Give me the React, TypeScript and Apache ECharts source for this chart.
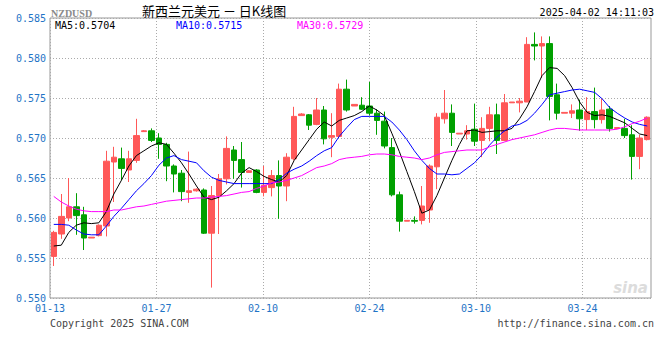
import React, { useEffect, useRef } from "react";
import * as echarts from "echarts";

const dates = [
  "01-13","01-14","01-15","01-16","01-17","01-18","01-19","01-20","01-21","01-22",
  "01-23","01-24","01-25","01-26","01-27","01-28","01-29","01-30","01-31","02-01",
  "02-02","02-03","02-04","02-05","02-06","02-07","02-08","02-09","02-10","02-11",
  "02-12","02-13","02-14","02-15","02-16","02-17","02-18","02-19","02-20","02-21",
  "02-22","02-23","02-24","02-25","02-26","02-27","02-28","03-01","03-02","03-03",
  "03-04","03-05","03-06","03-07","03-08","03-09","03-10","03-11","03-12","03-13",
  "03-14","03-15","03-16","03-17","03-18","03-19","03-20","03-21","03-22","03-23",
  "03-24","03-25","03-26","03-27","03-28","03-29","03-30","03-31","04-01","04-02",
];

const open = [
  0.5552,0.5580,0.5600,0.5614,0.5604,0.5575,0.5578,0.5590,0.5670,0.5674,
  0.5660,0.5672,0.5708,0.5709,0.5700,0.5692,0.5665,0.5656,0.5632,0.5634,
  0.5635,0.5581,0.5628,0.5649,0.5685,0.5673,0.5657,0.5660,0.5632,0.5638,
  0.5653,0.5640,0.5674,0.5728,0.5729,0.5717,0.5735,0.5701,0.5702,0.5761,
  0.5740,0.5741,0.5740,0.5731,0.5721,0.5688,0.5629,0.5596,0.5597,0.5597,
  0.5610,0.5664,0.5724,0.5731,0.5705,0.5705,0.5711,0.5697,0.5712,0.5729,
  0.5697,0.5744,0.5744,0.5745,0.5817,0.5815,0.5818,0.5754,0.5731,0.5731,
  0.5735,0.5723,0.5733,0.5723,0.5736,0.5712,0.5712,0.5704,0.5677,0.5698,
];
const close = [
  0.5582,0.5602,0.5614,0.5603,0.5575,0.5576,0.5591,0.5671,0.5676,0.5662,
  0.5674,0.5703,0.5709,0.5697,0.5692,0.5665,0.5655,0.5633,0.5634,0.5636,
  0.5581,0.5628,0.5649,0.5687,0.5672,0.5657,0.5659,0.5632,0.5641,0.5653,
  0.5640,0.5676,0.5727,0.5730,0.5716,0.5735,0.5699,0.5703,0.5761,0.5735,
  0.5742,0.5736,0.5731,0.5722,0.5690,0.5629,0.5596,0.5597,0.5596,0.5615,
  0.5665,0.5726,0.5731,0.5707,0.5706,0.5709,0.5696,0.5712,0.5729,0.5697,
  0.5744,0.5745,0.5746,0.5817,0.5815,0.5818,0.5752,0.5731,0.5732,0.5734,
  0.5724,0.5733,0.5723,0.5735,0.5712,0.5713,0.5703,0.5677,0.5700,0.5726,
];
const low = [
  0.5540,0.5574,0.5596,0.5579,0.5560,0.5575,0.5577,0.5577,0.5620,0.5647,
  0.5645,0.5669,0.5708,0.5695,0.5674,0.5646,0.5632,0.5621,0.5619,0.5633,
  0.5580,0.5513,0.5580,0.5642,0.5649,0.5638,0.5657,0.5631,0.5627,0.5627,
  0.5599,0.5621,0.5672,0.5728,0.5710,0.5716,0.5692,0.5676,0.5700,0.5733,
  0.5740,0.5735,0.5728,0.5704,0.5687,0.5627,0.5583,0.5596,0.5593,0.5592,
  0.5594,0.5636,0.5718,0.5690,0.5705,0.5698,0.5690,0.5676,0.5696,0.5680,
  0.5696,0.5744,0.5732,0.5745,0.5797,0.5775,0.5722,0.5723,0.5731,0.5725,
  0.5709,0.5710,0.5712,0.5718,0.5708,0.5712,0.5700,0.5648,0.5661,0.5697,
];
const high = [
  0.5584,0.5630,0.5650,0.5631,0.5614,0.5576,0.5592,0.5684,0.5689,0.5688,
  0.5684,0.5724,0.5710,0.5712,0.5706,0.5694,0.5667,0.5660,0.5683,0.5637,
  0.5637,0.5640,0.5655,0.5702,0.5690,0.5695,0.5660,0.5661,0.5665,0.5660,
  0.5672,0.5681,0.5739,0.5731,0.5730,0.5750,0.5740,0.5731,0.5768,0.5773,
  0.5742,0.5751,0.5770,0.5736,0.5733,0.5700,0.5633,0.5597,0.5602,0.5640,
  0.5667,0.5731,0.5760,0.5742,0.5706,0.5716,0.5743,0.5726,0.5739,0.5743,
  0.5755,0.5745,0.5750,0.5826,0.5832,0.5827,0.5827,0.5768,0.5732,0.5742,
  0.5748,0.5751,0.5763,0.5749,0.5740,0.5713,0.5724,0.5716,0.5704,0.5727,
];

const ma5 = [
  0.5565,0.5566,0.5582,0.5591,0.5594,0.5593,0.5594,0.5608,0.5630,0.5647,
  0.5665,0.5678,0.5684,0.5690,0.5694,0.5692,0.5681,0.5669,0.5655,0.5640,
  0.5626,0.5623,0.5626,0.5634,0.5643,0.5656,0.5663,0.5658,0.5652,0.5648,
  0.5645,0.5653,0.5672,0.5685,0.5698,0.5711,0.5720,0.5715,0.5722,0.5725,
  0.5728,0.5733,0.5740,0.5735,0.5728,0.5706,0.5683,0.5658,0.5633,0.5606,
  0.5610,0.5628,0.5650,0.5672,0.5692,0.5709,0.5710,0.5707,0.5708,0.5709,
  0.5709,0.5712,0.5724,0.5739,0.5758,0.5778,0.5788,0.5787,0.5778,0.5763,
  0.5745,0.5732,0.5728,0.5729,0.5727,0.5723,0.5719,0.5712,0.5705,0.5703,
];
const ma10 = [
  0.5592,0.5592,0.5591,0.5585,0.5580,0.5579,0.5579,0.5590,0.5602,0.5612,
  0.5623,0.5634,0.5643,0.5653,0.5666,0.5675,0.5678,0.5673,0.5671,0.5669,
  0.5659,0.5651,0.5647,0.5645,0.5643,0.5643,0.5643,0.5643,0.5643,0.5643,
  0.5648,0.5656,0.5661,0.5665,0.5671,0.5678,0.5684,0.5688,0.5702,0.5713,
  0.5723,0.5727,0.5727,0.5727,0.5727,0.5720,0.5710,0.5698,0.5684,0.5672,
  0.5662,0.5655,0.5655,0.5654,0.5655,0.5662,0.5669,0.5679,0.5691,0.5701,
  0.5709,0.5715,0.5717,0.5722,0.5731,0.5742,0.5754,0.5756,0.5758,0.5760,
  0.5761,0.5759,0.5757,0.5749,0.5738,0.5731,0.5725,0.5720,0.5717,0.5715,
];
const ma30 = [
  0.5627,0.5620,0.5615,0.5611,0.5609,0.5608,0.5608,0.5608,0.5610,0.5610,
  0.5612,0.5614,0.5615,0.5617,0.5619,0.5621,0.5622,0.5623,0.5624,0.5625,
  0.5625,0.5626,0.5627,0.5628,0.5630,0.5632,0.5633,0.5637,0.5640,0.5644,
  0.5645,0.5647,0.5650,0.5653,0.5658,0.5663,0.5665,0.5668,0.5673,0.5675,
  0.5676,0.5677,0.5679,0.5680,0.5680,0.5679,0.5677,0.5676,0.5675,0.5673,
  0.5675,0.5679,0.5682,0.5683,0.5684,0.5685,0.5685,0.5685,0.5689,0.5692,
  0.5695,0.5698,0.5700,0.5702,0.5704,0.5707,0.5710,0.5712,0.5712,0.5711,
  0.5710,0.5710,0.5710,0.5710,0.5710,0.5711,0.5714,0.5718,0.5721,0.5725,
];

const TITLE = "新西兰元美元 － 日K线图";
const SYMBOL = "NZDUSD";
const STAMP = "2025-04-02 14:11:03";
const MA_LABELS = ["MA5:0.5704", "MA10:0.5715", "MA30:0.5729"];

const MONO = "'DejaVu Sans Mono', monospace";
const BLUE = "#1f74c6";
const UP = "#ff5858";
const DOWN = "#00a000";

export default function App() {
  const ref = useRef<HTMLDivElement>(null);
  useEffect(() => {
    document.body.style.margin = "0";
    if (!ref.current) return;
    const chart = echarts.init(ref.current, undefined, { renderer: "svg" });
    const kdata = open.map((o, i) => [o, close[i], low[i], high[i]]);
    const txt = (x: number, y: number, text: string, fill: string, extra: any = {}) => ({
      type: "text",
      x,
      y,
      silent: true,
      style: {
        text,
        fill,
        fontSize: 10,
        fontFamily: MONO,
        align: "left",
        verticalAlign: "middle",
        textAlign: "left",
        textVerticalAlign: "middle",
        ...extra,
      },
    });
    chart.setOption({
      animation: false,
      backgroundColor: "#fff",
      grid: {
        left: 50,
        right: 9,
        top: 18,
        bottom: 62,
        show: true,
        borderColor: "#999",
        borderWidth: 1,
        backgroundColor: "transparent",
      },
      xAxis: [
        {
          type: "category",
          data: dates,
          boundaryGap: true,
          show: false,
        },
        {
          type: "category",
          data: dates,
          boundaryGap: false,
          position: "bottom",
          axisLine: { show: false },
          axisTick: { show: false },
          axisLabel: {
            interval: 13,
            color: BLUE,
            fontSize: 10,
            fontFamily: MONO,
            margin: 5,
          },
          splitLine: {
            show: true,
            interval: 13,
            lineStyle: { color: "#aaa", type: [1, 2], width: 1 },
          },
        },
      ],
      yAxis: {
        type: "value",
        min: 0.55,
        max: 0.585,
        interval: 0.005,
        axisLine: { show: false },
        axisTick: { show: false },
        axisLabel: {
          formatter: (v: number) => v.toFixed(3),
          color: BLUE,
          fontSize: 10,
          fontFamily: MONO,
          margin: 4,
        },
        splitLine: { lineStyle: { color: "#aaa", type: [1, 2], width: 1 } },
      },
      series: [
        {
          type: "candlestick",
          xAxisIndex: 0,
          data: kdata,
          barWidth: 6,
          itemStyle: {
            color: UP,
            color0: DOWN,
            borderColor: UP,
            borderColor0: DOWN,
            borderWidth: 1,
          },
        },
        {
          type: "line",
          xAxisIndex: 0,
          data: ma5,
          symbol: "none",
          lineStyle: { color: "#000", width: 1 },
        },
        {
          type: "line",
          xAxisIndex: 0,
          data: ma10,
          symbol: "none",
          lineStyle: { color: "#0000ff", width: 1 },
        },
        {
          type: "line",
          xAxisIndex: 0,
          data: ma30,
          symbol: "none",
          lineStyle: { color: "#ff00ff", width: 1 },
        },
      ],
      graphic: [
        {
          type: "text",
          x: 142,
          y: 10,
          silent: true,
          style: {
            text: TITLE,
            fill: "#000",
            fontSize: 13,
            fontFamily: "'Noto Sans CJK SC', sans-serif",
            verticalAlign: "middle",
            textVerticalAlign: "middle",
          },
        },
        {
          type: "text",
          x: 51,
          y: 13,
          silent: true,
          style: {
            text: SYMBOL,
            fill: "#8a8a8a",
            fontSize: 10,
            fontWeight: "bold",
            fontFamily: "'Liberation Serif', serif",
            verticalAlign: "middle",
            textVerticalAlign: "middle",
            textShadowColor: "#ccc",
            textShadowOffsetX: 1,
            textShadowOffsetY: 1,
          },
        },
        txt(654, 12, STAMP, "#000", { align: "right", textAlign: "right" }),
        txt(55, 25, MA_LABELS[0], "#000"),
        txt(176, 25, MA_LABELS[1], "#0000ff"),
        txt(297, 25, MA_LABELS[2], "#ff00ff"),
        txt(50, 323, "Copyright 2025 SINA.COM", "#444"),
        txt(654, 323, "http://finance.sina.com.cn", "#444", { align: "right", textAlign: "right" }),
        {
          type: "text",
          x: 648,
          y: 288,
          silent: true,
          style: {
            text: "sina",
            fill: "#dcdcdc",
            fontSize: 15,
            fontWeight: "bold",
            fontStyle: "italic",
            fontFamily: "'DejaVu Sans', sans-serif",
            align: "right",
            textAlign: "right",
            verticalAlign: "middle",
            textVerticalAlign: "middle",
          },
        },
      ],
    });
    return () => chart.dispose();
  }, []);
  return <div ref={ref} style={{ width: 660, height: 360 }} />;
}
